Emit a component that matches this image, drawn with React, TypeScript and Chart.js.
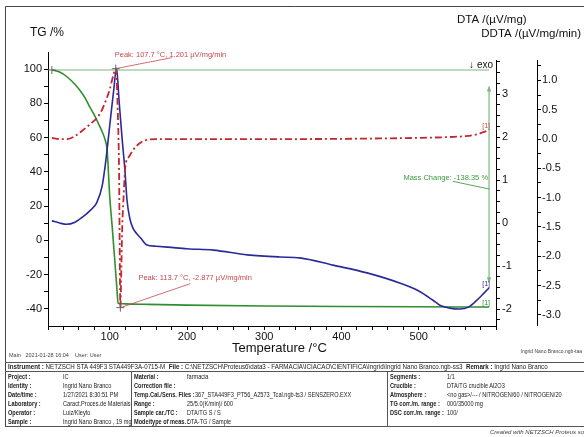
import React, { useEffect, useRef } from "react";
import { Chart, registerables } from "chart.js";

Chart.register(...registerables);

// ---------------- data ----------------
// TG curve (%), temperature in °C
const tgT = [25, 35, 45, 55, 61, 68, 74, 80, 85, 90, 94, 96.5, 100, 103, 106, 109, 110.8, 113, 120, 150, 200, 300, 400, 500, 591];
const tgV = [99.5, 98.3, 95.4, 91, 87.8, 83.2, 77.9, 73.2, 68.5, 63.6, 58.6, 53, 25, 8.5, -9, -27, -36.6, -36.9, -37.1, -37.4, -37.8, -38.3, -38.6, -38.8, -38.9];

// DTA curve (µV/mg)
const dtaT = [25, 35, 44, 55, 65, 75, 83, 90, 95, 100, 105, 108.7, 112, 116, 119.5, 122.3, 126, 130, 135, 140, 148, 160, 175, 200, 234, 278, 320, 346, 389, 433, 476, 500, 518, 528, 540, 553, 565, 575, 585, 591];
const dtaV = [0.05, 0.0, -0.03, 0.02, 0.14, 0.3, 0.47, 0.85, 1.47, 2.28, 3.08, 3.6, 2.85, 1.95, 1.25, 0.53, 0.1, -0.12, -0.25, -0.35, -0.51, -0.54, -0.56, -0.6, -0.63, -0.74, -0.79, -0.81, -0.98, -1.16, -1.4, -1.58, -1.79, -1.92, -1.98, -2.0, -1.95, -1.8, -1.62, -1.51];

// DDTA curve (µV/mg/min)
const ddtaT = [25, 35, 45, 55, 65, 75, 84, 90, 95, 100, 104, 107.7, 110.5, 112, 113.7, 114.5, 116, 118, 120, 125, 130, 140, 150, 160, 250, 350, 450, 500, 530, 560, 575, 591];
const ddtaV = [0.02, 0.0, 0.0, 0.05, 0.15, 0.26, 0.37, 0.5, 0.66, 0.85, 1.06, 1.201, 0.4, -0.55, -2.877, -2.5, -1.55, -0.95, -0.48, -0.3, -0.19, -0.06, -0.01, 0.0, 0.0, 0.0, 0.01, 0.02, 0.03, 0.05, 0.08, 0.15];

// axis ticks / labels
const tempTicks = Array.from({ length: 30 }, (_, i) => 20 + 20 * i);
const tempLabels = [100, 200, 300, 400, 500];
const tgTicks = Array.from({ length: 15 }, (_, i) => -40 + 10 * i);
const tgLabels = [-40, -20, 0, 20, 40, 60, 80, 100];
const dtaTicks = Array.from({ length: 25 }, (_, i) => -2.25 + 0.25 * i);
const dtaLabels = [-2, -1, 0, 1, 2, 3];
const ddtaTicks = Array.from({ length: 18 }, (_, i) => -3.0 + 0.25 * i);
const ddtaLabels = [-3.0, -2.5, -2.0, -1.5, -1.0, -0.5, 0.0, 0.5, 1.0];

// annotations
const peakHigh = { t: 107.7, v: 1.201, label: "Peak: 107.7 °C, 1.201 µV/mg/min" };
const peakLow = { t: 113.7, v: -2.877, label: "Peak: 113.7 °C, -2.877 µV/mg/min" };
const tgStart = { t: 25, v: 99.5 };
const tgEndT = 591;
const massArrow = { t: 591, top: 90.5, bottom: -25 };
const massLabel = { t: 544, v: 34.5, lineEndV: 30, labelV: 36.4, label: "Mass Change: -138.35 %" };

const tableHeader = [
  ["Instrument :", "NETZSCH STA 449F3 STA449F3A-0715-M"],
  ["File :", "C:\\NETZSCH\\Proteus6\\data3 - FARMACIA\\ICIACAO\\CIENTIFICA\\Ingrid\\Ingrid Nano Branco.ngb-ss3"],
  ["Remark :", "Ingrid Nano Branco"],
];
const col1 = [
  ["Project :", "IC"],
  ["Identity :", "Ingrid Nano Branco"],
  ["Date/time :", "1/27/2021 8:30:51 PM"],
  ["Laboratory :", "Caract.Proces.de Materiais"],
  ["Operator :", "Luiz/Kleyto"],
  ["Sample :", "Ingrid Nano Branco , 19 mg"],
];
const col2 = [
  ["Material :", "farmacia"],
  ["Correction file :", ""],
  ["Temp.Cal./Sens. Files :", "367_STA449F3_PT56_A2573_Tcal.ngb-ts3 / SENSZERO.EXX"],
  ["Range :", "25/5.0(K/min)/ 600"],
  ["Sample car./TC :", "DTA/TG S / S"],
  ["Mode/type of meas. :", "DTA-TG / Sample"],
];
const col3 = [
  ["Segments :", "1/1"],
  ["Crucible :", "DTA/TG crucible Al2O3"],
  ["Atmosphere :", "<no gas>/--- / NITROGEN/60 / NITROGEN/20"],
  ["TG corr./m. range :", "000/35000 mg"],
  ["DSC corr./m. range :", "100/"],
];

const FONT = "'Liberation Sans', Arial, sans-serif";
const GREEN = "#2f8f2f";
const GREEN_LIGHT = "#7cb97c";
const BLUE = "#2a2a9c";
const RED = "#c4262e";
const RED_TEXT = "#c8484c";

const zip = (a: number[], b: number[]) => a.map((x, i) => ({ x, y: b[i] }));
const near = (v: number, list: number[]) => list.some((l) => Math.abs(l - v) < 1e-6);

function drawArrowHead(ctx: CanvasRenderingContext2D, x: number, y: number, dir: number) {
  ctx.beginPath();
  ctx.moveTo(x, y);
  ctx.lineTo(x - 2.2, y - dir * 6);
  ctx.lineTo(x + 2.2, y - dir * 6);
  ctx.closePath();
  ctx.fill();
}

function cross(ctx: CanvasRenderingContext2D, x: number, y: number) {
  ctx.save();
  ctx.strokeStyle = "#666";
  ctx.lineWidth = 1;
  ctx.beginPath();
  ctx.moveTo(x - 4, y);
  ctx.lineTo(x + 4, y);
  ctx.moveTo(x, y - 4);
  ctx.lineTo(x, y + 4);
  ctx.stroke();
  ctx.restore();
}

const annotPlugin = {
  id: "annot",
  beforeDatasetsDraw(chart: any) {
    const { ctx, scales } = chart;
    const xs = scales.x, tg = scales.yTG;
    ctx.save();
    ctx.strokeStyle = GREEN_LIGHT;
    ctx.lineWidth = 1.2;
    const y0 = tg.getPixelForValue(tgStart.v);
    ctx.beginPath();
    ctx.moveTo(xs.getPixelForValue(tgStart.t), y0);
    ctx.lineTo(xs.getPixelForValue(tgEndT), y0);
    ctx.stroke();
    // vertical mass-change arrow
    const ax = xs.getPixelForValue(massArrow.t);
    const at = tg.getPixelForValue(massArrow.top);
    const ab = tg.getPixelForValue(massArrow.bottom);
    ctx.beginPath();
    ctx.moveTo(ax, at + 2);
    ctx.lineTo(ax, ab - 2);
    ctx.stroke();
    ctx.fillStyle = GREEN_LIGHT;
    drawArrowHead(ctx, ax, at, -1);
    drawArrowHead(ctx, ax, ab, 1);
    // leader for mass-change label
    ctx.strokeStyle = GREEN;
    ctx.lineWidth = 0.8;
    ctx.beginPath();
    ctx.moveTo(xs.getPixelForValue(massLabel.t), tg.getPixelForValue(massLabel.v));
    ctx.lineTo(ax, tg.getPixelForValue(massLabel.lineEndV));
    ctx.stroke();
    ctx.restore();
  },
  afterDraw(chart: any) {
    const { ctx, scales, chartArea } = chart;
    const xs = scales.x, tg = scales.yTG, dta = scales.yDTA, dd = scales.yDDTA;
    ctx.save();
    // right axis lines (start slightly below the TG axis top)
    ctx.strokeStyle = "#000";
    ctx.lineWidth = 1;
    ctx.beginPath();
    const dTop = dta.getPixelForValue(3.79);
    ctx.moveTo(dta.left + 0.5, dTop);
    ctx.lineTo(dta.left + 0.5, chartArea.bottom);
    const ddTop = dd.getPixelForValue(1.35);
    ctx.moveTo(dd.left + 0.5, ddTop);
    ctx.lineTo(dd.left + 0.5, chartArea.bottom);
    ctx.stroke();

    // titles
    ctx.fillStyle = "#111";
    ctx.textBaseline = "middle";
    ctx.textAlign = "left";
    ctx.font = `12px ${FONT}`;
    ctx.fillText("TG /%", 30, 33);
    ctx.font = `11.5px ${FONT}`;
    ctx.fillText("DTA /(µV/mg)", 457, 20);
    ctx.textAlign = "right";
    ctx.fillText("DDTA /(µV/mg/min)", 581, 34);
    ctx.font = `10px ${FONT}`;
    ctx.fillText("↓ exo", dta.left - 3, 65);
    ctx.textAlign = "left";
    ctx.font = `13px ${FONT}`;
    ctx.fillText("Temperature /°C", 232, 348);
    ctx.font = `5.5px ${FONT}`;
    ctx.fillStyle = "#444";
    ctx.fillText("Main   2021-01-28 16:04    User: User", 9, 355);
    ctx.textAlign = "right";
    ctx.font = `5px ${FONT}`;
    ctx.fillText("Ingrid Nano Branco.ngb-taa", 582, 352);

    // peak annotations
    ctx.font = `7.5px ${FONT}`;
    ctx.textAlign = "left";
    const p1x = xs.getPixelForValue(peakHigh.t), p1y = dd.getPixelForValue(peakHigh.v);
    const p2x = xs.getPixelForValue(peakLow.t), p2y = dd.getPixelForValue(peakLow.v);
    ctx.strokeStyle = RED_TEXT;
    ctx.lineWidth = 0.8;
    ctx.beginPath();
    ctx.moveTo(p1x, p1y);
    ctx.lineTo(p1x + 56, p1y - 11);
    ctx.moveTo(p2x, p2y);
    ctx.lineTo(p2x + 70, p2y - 24);
    ctx.stroke();
    ctx.fillStyle = RED_TEXT;
    ctx.fillText(peakHigh.label, p1x - 1, p1y - 14);
    ctx.fillText(peakLow.label, p2x + 18, p2y - 30);
    cross(ctx, p1x, p1y);
    cross(ctx, p2x, p2y);
    cross(ctx, xs.getPixelForValue(tgStart.t), tg.getPixelForValue(tgStart.v));

    // mass change label
    ctx.fillStyle = "#3c9a3c";
    ctx.textAlign = "right";
    ctx.fillText(massLabel.label, xs.getPixelForValue(massArrow.t) - 1, tg.getPixelForValue(massLabel.labelV));

    // [1] end labels
    ctx.font = `7px ${FONT}`;
    const ex = xs.getPixelForValue(tgEndT) + 1;
    ctx.fillStyle = RED_TEXT;
    ctx.fillText("[1]", ex, dd.getPixelForValue(ddtaV[ddtaV.length - 1]) - 4);
    ctx.fillStyle = BLUE;
    ctx.fillText("[1]", ex, dta.getPixelForValue(dtaV[dtaV.length - 1]) - 4);
    ctx.fillStyle = GREEN;
    ctx.fillText("[1]", ex, tg.getPixelForValue(tgV[tgV.length - 1]) - 4);

    // outer frame (left & top)
    ctx.strokeStyle = "#444";
    ctx.lineWidth = 1;
    ctx.beginPath();
    ctx.moveTo(5.5, 426);
    ctx.lineTo(5.5, 6.5);
    ctx.lineTo(600, 6.5);
    ctx.stroke();
    ctx.restore();
  },
};

function setTicks(list: number[]) {
  return (axis: any) => {
    axis.ticks = list.map((v) => ({ value: v }));
  };
}

const tickFont = { family: FONT, size: 11 };

function InfoTable() {
  const base: React.CSSProperties = {
    position: "absolute",
    whiteSpace: "nowrap",
    fontFamily: FONT,
    fontSize: "6.6px",
    lineHeight: "8px",
    color: "#222",
  };
  const rowText: React.CSSProperties = { ...base, transform: "scaleX(0.85)", transformOrigin: "0 50%" };
  const top = 362, sep = 371, bottom = 426, pitch = 9, firstRow = 376.5;
  const line = (l: number, t: number, w: number, h: number, k: string) => (
    <div key={k} style={{ position: "absolute", left: l, top: t, width: w, height: h, background: "#555" }} />
  );
  const els: React.ReactNode[] = [];
  els.push(line(5, top, 600, 1, "t"));
  els.push(line(5, sep, 600, 1, "s"));
  els.push(line(5, bottom, 600, 1, "b"));
  els.push(line(131, sep, 1, bottom - sep, "d1"));
  els.push(line(387, sep, 1, bottom - sep, "d2"));
  els.push(
    <div key="hdr" style={{ ...base, left: 8, top: 366.5 - 4, transform: "scaleX(0.94)", transformOrigin: "0 50%" }}>
      {tableHeader.map((h, i) => (
        <span key={i}>
          <b>{h[0]}</b> {h[1]}
          {i < tableHeader.length - 1 ? "\u00a0\u00a0" : ""}
        </span>
      ))}
    </div>
  );
  const cols: [string[][], number, number[]][] = [
    [col1, 8, [63, 63, 63, 63, 63, 63]],
    [col2, 134, [187, 187, 195, 187, 187, 187]],
    [col3, 390, [447, 447, 447, 447, 447]],
  ];
  cols.forEach(([rows, lx, vxs], c) => {
    rows.forEach((r, i) => {
      const y = firstRow + i * pitch - 4;
      els.push(<span key={`l${c}-${i}`} style={{ ...rowText, left: lx, top: y, fontWeight: "bold" }}>{r[0]}</span>);
      els.push(<span key={`v${c}-${i}`} style={{ ...rowText, left: vxs[i], top: y }}>{r[1]}</span>);
    });
  });
  els.push(
    <span key="created" style={{ ...base, left: 490, top: 428, fontStyle: "italic", fontSize: "6px", color: "#444" }}>
      Created with NETZSCH Proteus software
    </span>
  );
  return <>{els}</>;
}

export default function App() {
  const ref = useRef<HTMLCanvasElement | null>(null);
  useEffect(() => {
    if (!ref.current) return;
    const chart = new Chart(ref.current, {
      type: "line",
      data: {
        datasets: [
          {
            label: "DDTA",
            data: zip(ddtaT, ddtaV),
            yAxisID: "yDDTA",
            borderColor: RED,
            borderWidth: 1.8,
            borderDash: [7, 3, 2, 3],
            pointRadius: 0,
            cubicInterpolationMode: "monotone",
            fill: false,
          },
          {
            label: "DTA",
            data: zip(dtaT, dtaV),
            yAxisID: "yDTA",
            borderColor: BLUE,
            borderWidth: 1.6,
            pointRadius: 0,
            cubicInterpolationMode: "monotone",
            fill: false,
          },
          {
            label: "TG",
            data: zip(tgT, tgV),
            yAxisID: "yTG",
            borderColor: GREEN,
            borderWidth: 1.6,
            pointRadius: 0,
            cubicInterpolationMode: "monotone",
            fill: false,
          },
        ],
      },
      options: {
        animation: false,
        responsive: false,
        devicePixelRatio: 1,
        layout: { padding: { left: 0, right: 0, top: 52, bottom: 89 } },
        plugins: { legend: { display: false }, tooltip: { enabled: false }, title: { display: false } },
        scales: {
          x: {
            type: "linear",
            position: "bottom",
            min: 20,
            max: 600,
            afterBuildTicks: setTicks(tempTicks),
            afterFit: (s: any) => { s.height = 22; },
            ticks: {
              autoSkip: false,
              maxRotation: 0,
              padding: 0,
              color: "#111",
              font: tickFont,
              callback: (v: any) => (near(Number(v), tempLabels) ? String(v) : ""),
            },
            grid: { drawOnChartArea: false, drawTicks: true, tickLength: 4, color: "#000" },
            border: { display: true, color: "#000", width: 1 },
          },
          yTG: {
            type: "linear",
            position: "left",
            min: -50,
            max: 110,
            afterBuildTicks: setTicks(tgTicks),
            afterFit: (s: any) => { s.width = 48; },
            ticks: {
              autoSkip: false,
              padding: 2,
              color: "#111",
              font: tickFont,
              callback: (v: any) => (near(Number(v), tgLabels) ? String(v) : ""),
            },
            grid: { drawOnChartArea: false, drawTicks: true, tickLength: 4, color: "#000" },
            border: { display: true, color: "#000", width: 1 },
          },
          yDTA: {
            type: "linear",
            position: "right",
            weight: 0,
            min: -2.395,
            max: 3.977,
            afterBuildTicks: setTicks(dtaTicks),
            afterFit: (s: any) => { s.width = 41; },
            ticks: {
              autoSkip: false,
              padding: 2,
              color: "#111",
              font: tickFont,
              callback: (v: any) => (near(Number(v), dtaLabels) ? String(Math.round(Number(v))) : ""),
            },
            grid: { drawOnChartArea: false, drawTicks: true, tickLength: 4, color: "#000" },
            border: { display: false },
          },
          yDDTA: {
            type: "linear",
            position: "right",
            weight: 1,
            min: -3.19,
            max: 1.485,
            afterBuildTicks: setTicks(ddtaTicks),
            afterFit: (s: any) => { s.width = 47; },
            ticks: {
              autoSkip: false,
              padding: 1,
              color: "#111",
              font: tickFont,
              callback: (v: any) => (near(Number(v), ddtaLabels) ? Number(v).toFixed(1) : ""),
            },
            grid: { drawOnChartArea: false, drawTicks: true, tickLength: 4, color: "#000" },
            border: { display: false },
          },
        },
      } as any,
      plugins: [annotPlugin],
    });
    return () => chart.destroy();
  }, []);

  return (
    <div style={{ position: "fixed", left: 0, top: 0, width: 584, height: 437, background: "#fff", overflow: "hidden" }}>
      <canvas ref={ref} width={584} height={437} style={{ position: "absolute", left: 0, top: 0, width: 584, height: 437 }} />
      <InfoTable />
    </div>
  );
}
